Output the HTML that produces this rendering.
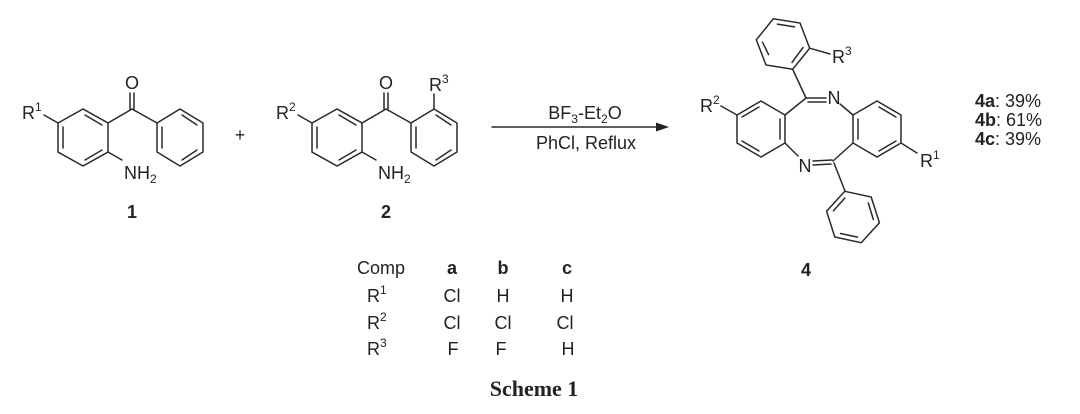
<!DOCTYPE html>
<html><head><meta charset="utf-8"><style>
html,body{margin:0;padding:0;background:#fff}
svg{display:block}
text{font-family:"Liberation Sans",sans-serif;fill:#222}
</style></head><body>
<svg width="1080" height="414" viewBox="0 0 1080 414" xmlns="http://www.w3.org/2000/svg">
<g stroke="#2a2a2a" stroke-width="1.5" fill="none" stroke-linecap="round">
<g id="c1">
<polygon points="58,123 83,109 108,123 108,152 83,166 58,152"/>
<line x1="85" y1="115" x2="102" y2="125"/>
<line x1="63" y1="127" x2="63" y2="148"/>
<line x1="85" y1="160" x2="102" y2="150"/>
<polygon points="157,123 180,109 203,123 203,152 180,166 157,152"/>
<line x1="182" y1="115" x2="197" y2="125"/>
<line x1="162" y1="127" x2="162" y2="148"/>
<line x1="182" y1="160" x2="197" y2="150"/>
<polyline points="108,123 132,109 157,123"/>
<line x1="130" y1="109" x2="130" y2="93"/>
<line x1="134" y1="109" x2="134" y2="93"/>
<line x1="58" y1="123" x2="44" y2="115"/>
<line x1="108" y1="152" x2="122" y2="160"/>
</g>
<use href="#c1" transform="translate(254,0)"/>
<line x1="434" y1="109" x2="434" y2="94"/>
<line x1="492" y1="127" x2="660" y2="127"/>
<!-- product 4 -->
<polygon points="737,115 761,101 785,115 785,143 761,157 737,143"/>
<line x1="742" y1="117" x2="759" y2="107"/>
<line x1="780" y1="119" x2="780" y2="139"/>
<line x1="742" y1="141" x2="759" y2="151"/>
<line x1="737" y1="115" x2="721" y2="106"/>
<line x1="785" y1="115" x2="806" y2="98"/>
<line x1="806" y1="98" x2="826" y2="98"/>
<line x1="808" y1="102" x2="826" y2="102"/>
<line x1="840" y1="104" x2="853" y2="115"/>
<polygon points="853,115 877,101 901,115 901,143 877,157 853,143"/>
<line x1="879" y1="107" x2="896" y2="117"/>
<line x1="858" y1="119" x2="858" y2="139"/>
<line x1="879" y1="151" x2="896" y2="141"/>
<line x1="901" y1="143" x2="917" y2="153"/>
<line x1="785" y1="143" x2="798" y2="156"/>
<line x1="813" y1="161" x2="832" y2="160"/>
<line x1="813" y1="165" x2="831" y2="164"/>
<line x1="833" y1="161" x2="853" y2="143"/>
<line x1="834" y1="163" x2="845" y2="191"/>
<polygon points="844.8,191.3 871.2,197 879.4,222.8 861.2,242.7 834.8,237 826.6,211.2"/>
<line x1="868.3" y1="203" x2="873.4" y2="219.6"/>
<line x1="857.5" y1="237.1" x2="840.5" y2="233.5"/>
<line x1="833.4" y1="210.8" x2="844.9" y2="198"/>
<line x1="806" y1="98" x2="793" y2="70"/>
<polygon points="792.7,69.2 766,65 756.3,39.8 773.3,18.8 800,23 809.7,48.2"/>
<line x1="777.4" y1="24.1" x2="794.5" y2="26.9"/>
<line x1="768.6" y1="54.6" x2="762.5" y2="42.2"/>
<line x1="803" y1="47.5" x2="792" y2="62.5"/>
<line x1="809.7" y1="48.2" x2="830" y2="54"/>
</g>
<polygon points="669,127 656,122.5 656,131.5" fill="#222"/>
<g font-size="18">
<text x="132" y="89" text-anchor="middle">O</text>
<text x="386" y="89" text-anchor="middle">O</text>
<text x="22" y="119">R<tspan font-size="12" dy="-8">1</tspan></text>
<text x="276" y="119">R<tspan font-size="12" dy="-8">2</tspan></text>
<text x="429" y="91">R<tspan font-size="12" dy="-8">3</tspan></text>
<text x="124" y="179">NH<tspan font-size="12" dy="4">2</tspan></text>
<text x="378" y="179">NH<tspan font-size="12" dy="4">2</tspan></text>
<text x="240" y="141" text-anchor="middle">+</text>
<text x="585" y="119" text-anchor="middle" font-size="18">BF<tspan font-size="12" dy="4">3</tspan><tspan dy="-4">-Et</tspan><tspan font-size="12" dy="4">2</tspan><tspan dy="-4">O</tspan></text>
<text x="586" y="149" text-anchor="middle" font-size="18">PhCl, Reflux</text>
<text x="700" y="112">R<tspan font-size="12" dy="-8">2</tspan></text>
<text x="834" y="104" text-anchor="middle">N</text>
<text x="805" y="172" text-anchor="middle">N</text>
<text x="920" y="167">R<tspan font-size="12" dy="-8">1</tspan></text>
<text x="832" y="63">R<tspan font-size="12" dy="-8">3</tspan></text>
<text x="975" y="107" font-size="18"><tspan font-weight="bold">4a</tspan>: 39%</text>
<text x="975" y="126" font-size="18"><tspan font-weight="bold">4b</tspan>: 61%</text>
<text x="975" y="145" font-size="18"><tspan font-weight="bold">4c</tspan>: 39%</text>
<text x="132" y="218" text-anchor="middle" font-weight="bold">1</text>
<text x="386" y="218" text-anchor="middle" font-weight="bold">2</text>
<text x="806" y="276" text-anchor="middle" font-weight="bold">4</text>
<text x="357" y="274">Comp</text>
<text x="452" y="274" text-anchor="middle" font-weight="bold">a</text>
<text x="503" y="274" text-anchor="middle" font-weight="bold">b</text>
<text x="567" y="274" text-anchor="middle" font-weight="bold">c</text>
<text x="367" y="302">R<tspan font-size="12" dy="-8">1</tspan></text>
<text x="452" y="302" text-anchor="middle">Cl</text>
<text x="503" y="302" text-anchor="middle">H</text>
<text x="567" y="302" text-anchor="middle">H</text>
<text x="367" y="329">R<tspan font-size="12" dy="-8">2</tspan></text>
<text x="452" y="329" text-anchor="middle">Cl</text>
<text x="503" y="329" text-anchor="middle">Cl</text>
<text x="565" y="329" text-anchor="middle">Cl</text>
<text x="367" y="355">R<tspan font-size="12" dy="-8">3</tspan></text>
<text x="453" y="355" text-anchor="middle">F</text>
<text x="501" y="355" text-anchor="middle">F</text>
<text x="568" y="355" text-anchor="middle">H</text>
</g>
<text x="534" y="396" text-anchor="middle" font-weight="bold" font-size="22" style="font-family:'Liberation Serif',serif">Scheme 1</text>
</svg>
</body></html>
